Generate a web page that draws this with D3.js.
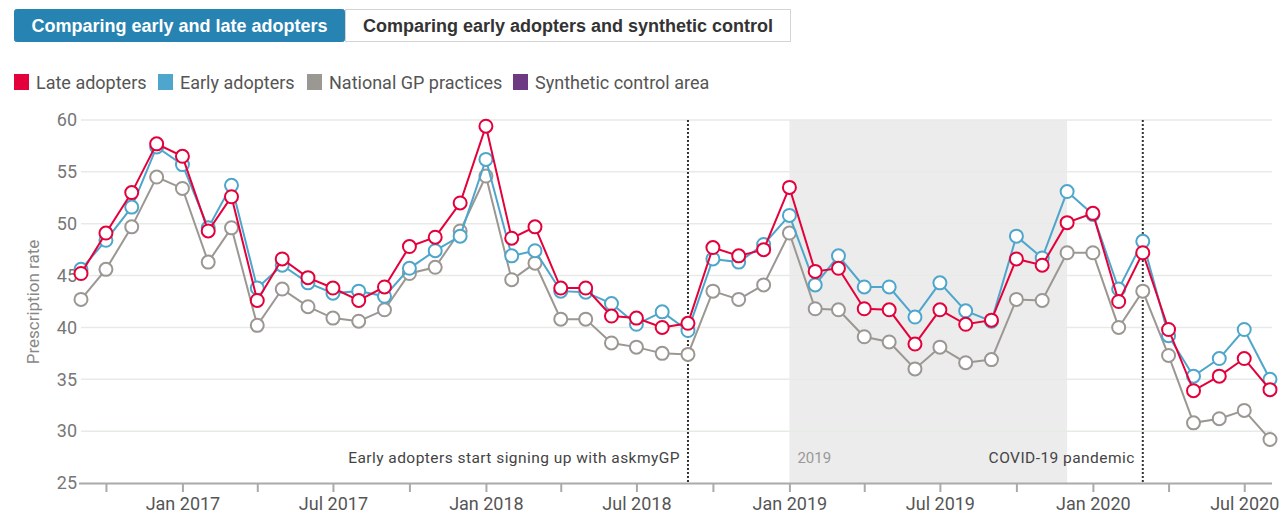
<!DOCTYPE html>
<html>
<head>
<meta charset="utf-8">
<script src="https://cdn.jsdelivr.net/npm/d3@7"></script>
<style>
  html, body { margin: 0; padding: 0; background: #fff; }
  svg { display: block; font-family: Roboto, "Liberation Sans", sans-serif; }
</style>
</head>
<body>
<svg id="chart" width="1282" height="513"></svg>
<script>
// ---- data ----
const months = d3.timeMonths(new Date(2016, 8, 1), new Date(2020, 8, 1)); // Sep 2016 .. Aug 2020 (48)

const lateAdopters = [45.2, 49.1, 53.0, 57.7, 56.5, 49.3, 52.6, 42.6, 46.6, 44.8, 43.8, 42.6,
  43.9, 47.8, 48.7, 52.0, 59.4, 48.6, 49.7, 43.8, 43.8, 41.1, 40.9, 40.0,
  40.4, 47.7, 46.9, 47.5, 53.5, 45.4, 45.7, 41.8, 41.7, 38.4, 41.7, 40.3,
  40.7, 46.6, 46.0, 50.1, 51.0, 42.5, 47.2, 39.8, 33.9, 35.3, 37.0, 34.0];

const earlyAdopters = [45.6, 48.4, 51.6, 57.4, 55.7, 49.6, 53.7, 43.8, 46.0, 44.3, 43.3, 43.5,
  43.0, 45.7, 47.4, 48.8, 56.2, 46.9, 47.4, 43.5, 43.4, 42.3, 40.3, 41.5,
  39.7, 46.6, 46.3, 48.0, 50.8, 44.1, 46.9, 43.9, 43.9, 41.0, 44.3, 41.6,
  40.6, 48.8, 46.7, 53.1, 50.9, 43.7, 48.3, 39.2, 35.3, 37.0, 39.8, 35.0];

const nationalGP = [42.7, 45.6, 49.7, 54.5, 53.4, 46.3, 49.6, 40.2, 43.7, 42.0, 40.9, 40.6,
  41.7, 45.2, 45.8, 49.3, 54.6, 44.6, 46.2, 40.8, 40.8, 38.5, 38.1, 37.5,
  37.4, 43.5, 42.7, 44.1, 49.1, 41.8, 41.7, 39.1, 38.6, 36.0, 38.1, 36.6,
  36.9, 42.7, 42.6, 47.2, 47.2, 40.0, 43.5, 37.3, 30.8, 31.2, 32.0, 29.2];

const yTicks = [25, 30, 35, 40, 45, 50, 55, 60];
const xTickLabels = ["Jan 2017", "Jul 2017", "Jan 2018", "Jul 2018", "Jan 2019", "Jul 2019", "Jan 2020", "Jul 2020"];

const legendNames = ["Late adopters", "Early adopters", "National GP practices", "Synthetic control area"];
const legendColors = ["#e4003b", "#4ea6cc", "#9b9792", "#6e3a82"];

const buttonLabels = ["Comparing early and late adopters", "Comparing early adopters and synthetic control"];

const markerDates = [new Date(2018, 8, 1), new Date(2020, 2, 1)];
const markerTexts = ["Early adopters start signing up with askmyGP", "COVID-19 pandemic"];
const shadeRange = [new Date(2019, 0, 1), new Date(2019, 11, 1)];
const shadeLabel = "2019";

// ---- layout ----
const svg = d3.select("#chart");
const pLeft = 81, pRight = 1270, pTop = 120, pBottom = 483;

const x = d3.scaleTime().domain([months[0], months[months.length - 1]]).range([pLeft, pRight]);
const y = d3.scaleLinear().domain([25, 60]).range([pBottom, pTop]);

// buttons
const btnX = [14, 345], btnW = [331, 446];
buttonLabels.forEach((lab, i) => {
  const g = svg.append("g");
  g.append("rect").attr("x", btnX[i] + 0.5).attr("y", 9.5).attr("width", btnW[i] - 1).attr("height", 32)
    .attr("rx", i === 0 ? 2 : 0)
    .attr("fill", i === 0 ? "#2783b2" : "#fff")
    .attr("stroke", i === 0 ? "#2783b2" : "#d4d4d4");
  g.append("text").attr("x", btnX[i] + btnW[i] / 2).attr("y", 32)
    .attr("text-anchor", "middle").attr("font-size", 18).attr("font-weight", "bold")
    .attr("font-family", "'Liberation Sans', Arial, sans-serif")
    .attr("fill", i === 0 ? "#fff" : "#333").text(lab);
});

// legend
const legX = [14, 158, 307, 513];
legendNames.forEach((n, i) => {
  svg.append("rect").attr("x", legX[i]).attr("y", 74).attr("width", 15).attr("height", 16).attr("fill", legendColors[i]);
  svg.append("text").attr("x", legX[i] + 22).attr("y", 88.5).attr("font-size", 18).attr("fill", "#555").text(n);
});

// shaded 2019
svg.append("rect").attr("x", x(shadeRange[0])).attr("y", pTop)
  .attr("width", x(shadeRange[1]) - x(shadeRange[0])).attr("height", pBottom - pTop).attr("fill", "#ececec");

// gridlines
svg.append("g").selectAll("line").data(yTicks.filter(t => t !== 25)).join("line")
  .attr("x1", pLeft).attr("x2", pRight + 2).attr("y1", d => y(d)).attr("y2", d => y(d))
  .attr("stroke", "#e6ebe6").attr("stroke-width", 1.5);

// y axis labels
const yAxis = d3.axisLeft(y).tickValues(yTicks).tickSize(0).tickPadding(4);
const yG = svg.append("g").attr("transform", `translate(${pLeft},0)`).call(yAxis);
yG.select(".domain").remove();
yG.selectAll("text").attr("font-size", 18).attr("fill", "#777").attr("font-family", "Roboto, sans-serif");

svg.append("text").attr("transform", `translate(39,302) rotate(-90)`)
  .attr("text-anchor", "middle").attr("font-size", 17).attr("fill", "#888").text("Prescription rate");

// x axis
const tickDates = d3.timeMonths(new Date(2016, 9, 1), new Date(2020, 8, 1), 3); // Oct 2016 every 3 months
const labelMap = {};
xTickLabels.forEach(l => { labelMap[l] = true; });
const fmt = d3.timeFormat("%b %Y");
const xAxis = d3.axisBottom(x).tickValues(tickDates).tickSize(9).tickPadding(5)
  .tickFormat(d => labelMap[fmt(d)] ? fmt(d) : "");
const xG = svg.append("g").attr("transform", `translate(0,${pBottom})`).call(xAxis);
xG.select(".domain").attr("d", `M${pLeft - 2},0.5H${pRight + 2}`).attr("stroke", "#aaa").attr("stroke-width", 2);
xG.selectAll(".tick line").attr("stroke", "#aaa").attr("stroke-width", 2);
xG.selectAll("text").attr("font-size", 18).attr("fill", "#555").attr("font-family", "Roboto, sans-serif");

// shade label
svg.append("text").attr("x", x(shadeRange[0]) + 8).attr("y", 463).attr("font-size", 15).attr("fill", "#999").text(shadeLabel);

// marker lines
markerDates.forEach((d, i) => {
  svg.append("line").attr("x1", x(d)).attr("x2", x(d)).attr("y1", pTop).attr("y2", pBottom)
    .attr("stroke", "#333").attr("stroke-width", 2).attr("stroke-dasharray", "2,2");
  svg.append("text").attr("x", x(d) - 8).attr("y", 463).attr("text-anchor", "end")
    .attr("font-size", 15.5).attr("fill", "#444").attr("letter-spacing", 0.45).text(markerTexts[i]);
});

// series
const series = [
  { name: legendNames[2], values: nationalGP, color: legendColors[2] },
  { name: legendNames[1], values: earlyAdopters, color: legendColors[1] },
  { name: legendNames[0], values: lateAdopters, color: legendColors[0] }
];
const line = d3.line().x((d, i) => x(months[i])).y(d => y(d));
series.forEach(s => {
  const g = svg.append("g");
  g.append("path").attr("d", line(s.values)).attr("fill", "none").attr("stroke", s.color).attr("stroke-width", 2);
  g.selectAll("circle").data(s.values).join("circle")
    .attr("cx", (d, i) => x(months[i])).attr("cy", d => y(d)).attr("r", 6.5)
    .attr("fill", "#fff").attr("stroke", s.color).attr("stroke-width", 2);
});
</script>
</body>
</html>
